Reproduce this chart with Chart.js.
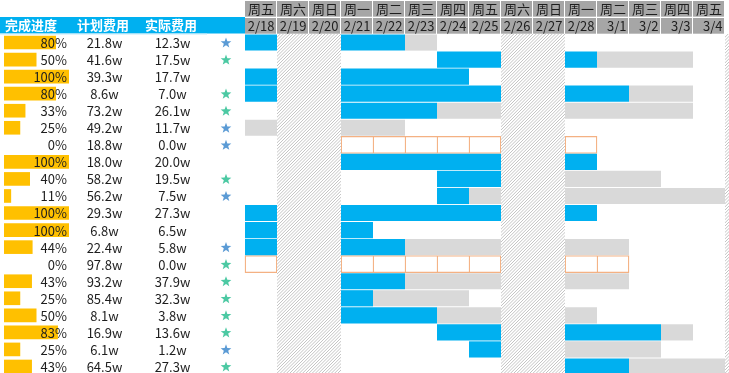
<!DOCTYPE html>
<html>
<head>
<meta charset="utf-8">
<script src="https://cdn.jsdelivr.net/npm/chart.js@4.4.1/dist/chart.umd.min.js"></script>
<style>
    html, body { margin: 0; padding: 0; background: #ffffff; overflow: hidden; }
    #wrap { width: 729px; height: 375px; }
</style>
</head>
<body>
<div id="wrap"><canvas id="chartGantt" width="729" height="375"></canvas></div>
<script>
// data
const rowIds = ['T01','T02','T03','T04','T05','T06','T07','T08','T09','T10','T11','T12','T13','T14','T15','T16','T17','T18','T19','T20'];
const progress = [0.80, 0.50, 1.00, 0.80, 0.33, 0.25, 0, 1.00, 0.40, 0.11, 1.00, 1.00, 0.44, 0, 0.43, 0.25, 0.50, 0.83, 0.25, 0.43];
const planCost = [21.8, 41.6, 39.3, 8.6, 73.2, 49.2, 18.8, 18.0, 58.2, 56.2, 29.3, 6.8, 22.4, 97.8, 93.2, 85.4, 8.1, 16.9, 6.1, 64.5];
const actualCost = [12.3, 17.5, 17.7, 7.0, 26.1, 11.7, 0.0, 20.0, 19.5, 7.5, 27.3, 6.5, 5.8, 0.0, 37.9, 32.3, 3.8, 13.6, 1.2, 27.3];
const starMark = ['blue','green','','green','green','blue','blue','','green','blue','','','blue','green','green','green','green','green','blue','green'];
const headers = ['完成进度', '计划费用', '实际费用'];
const dates = ['2/18','2/19','2/20','2/21','2/22','2/23','2/24','2/25','2/26','2/27','2/28','3/1','3/2','3/3','3/4'];
const weekdays = ['周五','周六','周日','周一','周二','周三','周四','周五','周六','周日','周一','周二','周三','周四','周五'];
// day index (0 = 2/18) where each task starts, ends, and how far it is done
const taskStart = [0, 6, 0, 0, 3, 0, 3, 3, 6, 6, 0, 0, 0, 0, 3, 3, 3, 6, 7, 10];
const taskEnd   = [6, 14, 7, 14, 14, 5, 11, 11, 13, 15, 11, 4, 12, 12, 12, 7, 11, 14, 13, 15];
const doneEnd   = [5, 11, 7, 12, 6, 0, 3, 11, 8, 7, 11, 4, 5, 0, 5, 4, 6, 13, 8, 12];

const COL_W = 32, GANTT_LEFT = 245, W = 729;
const FONT = '"Noto Sans CJK SC", "Microsoft YaHei", sans-serif';
const isWeekend = d => ['周六', '周日'].includes(weekdays[d % 7]);

// cells of tasks not started yet (0%), one per working day
const emptyCells = [];
rowIds.forEach((id, i) => {
    if (progress[i] > 0) return;
    for (let d = taskStart[i]; d < taskEnd[i]; d++) {
        if (!isWeekend(d)) emptyCells.push({ x: [d, d + 1], y: id });
    }
});

function drawHatch(ctx, x0, x1, y0, y1) {
    ctx.save();
    ctx.beginPath();
    ctx.rect(x0, y0, x1 - x0, y1 - y0);
    ctx.clip();
    ctx.fillStyle = '#ffffff';
    ctx.fillRect(x0, y0, x1 - x0, y1 - y0);
    ctx.strokeStyle = '#c4c4c4';
    ctx.lineWidth = 1;
    ctx.beginPath();
    const h = y1 - y0;
    for (let k = x0 - h; k < x1; k += 3.2) {
        ctx.moveTo(k, y1);
        ctx.lineTo(k + h, y0);
    }
    ctx.stroke();
    ctx.restore();
}

function drawStar(ctx, cx, cy, R, r, color) {
    ctx.beginPath();
    for (let k = 0; k < 10; k++) {
        const rad = k % 2 === 0 ? R : r;
        const a = -Math.PI / 2 + k * Math.PI / 5;
        const px = cx + rad * Math.cos(a), py = cy + rad * Math.sin(a);
        if (k === 0) ctx.moveTo(px, py); else ctx.lineTo(px, py);
    }
    ctx.closePath();
    ctx.fillStyle = color;
    ctx.fill();
}

const ganttDecor = {
    id: 'ganttDecor',
    afterDatasetsDraw(chart) {
        const ctx = chart.ctx;
        const xs = chart.scales.x, ys = chart.scales.y;
        const top = chart.chartArea.top, bottom = chart.height;

        // weekend columns
        for (let d = 0; d < 17; d++) {
            if (!isWeekend(d)) continue;
            drawHatch(ctx, xs.getPixelForValue(d), xs.getPixelForValue(d + 1), top, bottom);
        }

        // table header
        ctx.save();
        ctx.fillStyle = '#00B0F0';
        ctx.fillRect(0, 17, GANTT_LEFT, 16.5);
        ctx.fillStyle = '#BFE9F9';
        ctx.fillRect(0, 33.5, 207, 1);
        ctx.fillStyle = '#ffffff';
        ctx.font = 'bold 13px ' + FONT;
        ctx.textAlign = 'center';
        ctx.textBaseline = 'middle';
        [31, 103, 171].forEach((cx, k) => ctx.fillText(headers[k], cx, 25.5));

        // timeline header
        dates.forEach((label, d) => {
            const x0 = xs.getPixelForValue(d), x1 = xs.getPixelForValue(d + 1);
            ctx.fillStyle = '#A6A6A6';
            ctx.fillRect(x0, 1, x1 - x0 - 1, 15.7);
            ctx.fillRect(x0, 18, x1 - x0 - 1, 15.7);
            ctx.fillStyle = '#1e1e1e';
            ctx.font = '13px ' + FONT;
            ctx.textAlign = 'center';
            ctx.fillText(weekdays[d], (x0 + x1) / 2, 9.3);
            ctx.textAlign = 'right';
            ctx.fillText(label, x1 - 2.5, 26.3);
        });

        // table rows
        ctx.font = '13px ' + FONT;
        rowIds.forEach((id, i) => {
            const cy = ys.getPixelForValue(i) + 0.5;
            ctx.fillStyle = '#1e1e1e';
            ctx.textAlign = 'right';
            ctx.fillText(Math.round(progress[i] * 100) + '%', 67, cy);
            ctx.textAlign = 'center';
            ctx.fillText(planCost[i].toFixed(1) + 'w', 104.5, cy);
            ctx.fillText(actualCost[i].toFixed(1) + 'w', 172.5, cy);
            if (starMark[i]) {
                drawStar(ctx, 226, cy, 5.6, 2.3, starMark[i] === 'blue' ? '#5B9BD5' : '#4CC9A3');
            }
        });
        ctx.restore();
    }
};

new Chart(document.getElementById('chartGantt'), {
    type: 'bar',
    data: {
        labels: rowIds,
        datasets: [
            {
                label: '完成进度',
                xAxisID: 'xp',
                data: progress.map(p => [0, p]),
                backgroundColor: '#FFC000',
                grouped: false,
                barPercentage: 0.8,
                categoryPercentage: 1
            },
            {
                label: '已完成',
                xAxisID: 'x',
                data: rowIds.map((_, i) => doneEnd[i] > taskStart[i] ? [taskStart[i], doneEnd[i]] : null),
                backgroundColor: '#00B0F0',
                grouped: false,
                barPercentage: 0.95,
                categoryPercentage: 1
            },
            {
                label: '未完成',
                xAxisID: 'x',
                data: rowIds.map((_, i) => {
                    const from = Math.max(doneEnd[i], taskStart[i]);
                    return progress[i] > 0 && taskEnd[i] > from ? [from, taskEnd[i]] : null;
                }),
                backgroundColor: '#D9D9D9',
                grouped: false,
                barPercentage: 0.95,
                categoryPercentage: 1
            },
            {
                label: '未开始',
                xAxisID: 'x',
                data: emptyCells,
                backgroundColor: '#ffffff',
                borderColor: '#F4B183',
                borderSkipped: false,
                borderWidth: function(c) {
                    const r = c.raw;
                    if (!r) return 1.3;
                    const hasNext = emptyCells.some(e => e.y === r.y && e.x[0] === r.x[1]);
                    return { top: 1.3, bottom: 1.3, left: 1.3, right: hasNext ? 0 : 1.3 };
                },
                grouped: false,
                barPercentage: 1,
                categoryPercentage: 1
            }
        ]
    },
    options: {
        indexAxis: 'y',
        responsive: false,
        animation: false,
        layout: { padding: { top: 34, left: 0, right: 0, bottom: 0 } },
        plugins: {
            legend: { display: false },
            tooltip: { enabled: false }
        },
        scales: {
            x: { type: 'linear', min: -GANTT_LEFT / COL_W, max: (W - GANTT_LEFT) / COL_W, display: false },
            xp: { type: 'linear', axis: 'x', min: -4 / 65, max: (W - 4) / 65, display: false },
            y: { type: 'category', offset: true, display: false }
        }
    },
    plugins: [ganttDecor]
});
</script>
</body>
</html>
